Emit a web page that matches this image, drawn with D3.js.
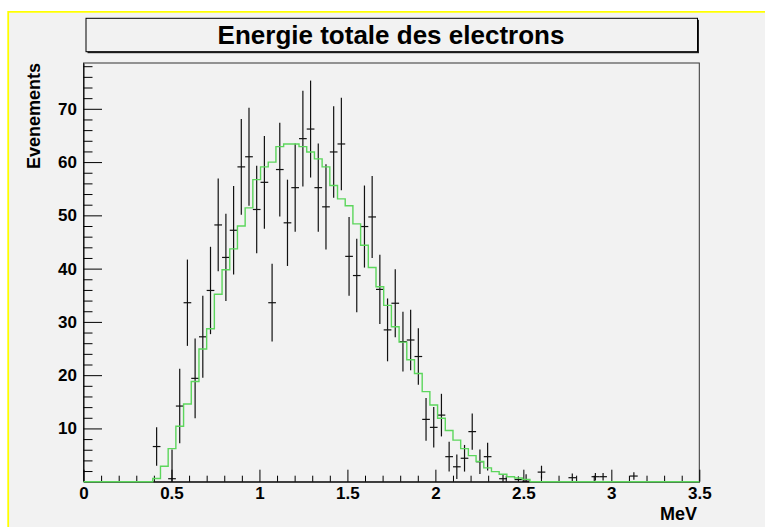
<!DOCTYPE html>
<html><head><meta charset="utf-8">
<script src="https://cdn.jsdelivr.net/npm/d3@7"></script>
<style>html,body{margin:0;padding:0;background:#fff;}svg{display:block;}</style>
</head><body>
<script>
// ---- data ----
const titleText = "Energie totale des electrons";
const xTitle = "MeV";
const yTitle = "Evenements";
const xMin = 0, xMax = 3.5, nBins = 80;
const yMax = 78.6;
const xMajorTicks = [0, 0.5, 1, 1.5, 2, 2.5, 3, 3.5];
const yMajorTicks = [10, 20, 30, 40, 50, 60, 70];
// simulated spectrum (green histogram), 80 bins
const mcCounts = [
  0,0,0,0,0,0,0,0,0,0.6,
  2.9,6.2,10.4,14.6,18.8,24.9,28.7,35.2,39.8,43.7,
  48.0,51.4,56.7,59.1,60.0,62.9,63.4,63.4,62.9,61.9,
  60.6,59.1,55.6,53.1,51.8,48.4,44.4,40.2,36.6,33.1,
  29.1,26.2,22.9,20.3,16.9,14.4,11.9,9.6,7.8,6.2,
  4.9,3.8,2.6,1.9,1.4,0.94,0.7,0.43,0,0,
  0,0,0,0,0,0,0,0,0,0,
  0,0,0,0,0,0,0,0,0,0
];
// measured data (black points), 80 bins
const dataCounts = [
  0,0,0,0,0,0,0,0,0,6.6,
  0,0.56,14.2,33.6,19.4,27.2,35.9,48.2,42.1,47.2,
  59.1,61.0,51.1,56.2,33.6,58.6,48.6,55.2,64.4,66.2,
  55.2,51.6,61.9,63.4,42.3,38.7,47.9,49.7,36.1,28.5,
  33.5,26.3,26.6,23.5,11.7,10.2,12.5,4.7,2.8,4.4,
  9.4,3.75,4.7,0,0.56,0,0.4,0.1,0,1.8,
  0,0,0,0.75,0,0,0.94,0.94,0,0,
  0,1.06,0,0,0,0,0,0,0,0
];
const dataErrors = [
  0,0,0,0,0,0,0,0,0,3.6,
  0,5.5,7.0,8.1,7.5,7.7,8.2,8.7,8.2,8.3,
  9.0,9.2,8.2,8.7,7.3,8.8,8.1,8.3,9.0,9.1,
  8.3,8.0,8.6,8.7,7.4,6.9,7.7,7.7,6.5,5.9,
  6.4,5.6,5.7,5.3,4.0,3.8,4.0,2.8,2.3,2.5,
  3.4,2.3,2.6,0,0.9,0,0.6,1.3,0,1.2,
  0,0,0,0.8,0,0,0.7,0.7,0,0,
  0,0.7,0,0,0,0,0,0,0,0
];

// ---- layout ----
const W = 765, H = 527;
const bg = "#f2f2f2";
const FONT = "'Liberation Sans', Arial, Helvetica, sans-serif";
const frame = {l: 83.5, r: 699.3, t: 63, b: 481.7};

const svg = d3.select("body").append("svg").attr("width", W).attr("height", H);
svg.append("rect").attr("width", W).attr("height", H).attr("fill", "#fff");
svg.append("rect").attr("x", 9).attr("y", 12.6).attr("width", W - 9).attr("height", H - 12.6).attr("fill", bg);
// yellow selection edge
svg.append("line").attr("x1", 8).attr("x2", W).attr("y1", 11.8).attr("y2", 11.8).attr("stroke", "#ffff00").attr("stroke-width", 1.8);
svg.append("line").attr("x1", 8.2).attr("x2", 8.2).attr("y1", 11).attr("y2", H).attr("stroke", "#ffff00").attr("stroke-width", 1.8);

const x = d3.scaleLinear().domain([xMin, xMax]).range([frame.l, frame.r]);
const y = d3.scaleLinear().domain([0, yMax]).range([frame.b, frame.t]);
const bw = (xMax - xMin) / nBins;

// frame
svg.append("rect").attr("x", frame.l).attr("y", frame.t)
  .attr("width", frame.r - frame.l).attr("height", frame.b - frame.t)
  .attr("fill", bg).attr("stroke", "#333").attr("stroke-width", 1);

// ---- data points ----
const pts = svg.append("g").attr("stroke", "#111").attr("stroke-width", 1.2).attr("fill", "none");
dataCounts.forEach((v, i) => {
  const e = dataErrors[i];
  if (v <= 0 && e <= 0) return;
  const x0 = x(xMin + i * bw), x1 = x(xMin + (i + 1) * bw), xc = (x0 + x1) / 2;
  pts.append("line").attr("x1", x0).attr("x2", x1).attr("y1", y(v)).attr("y2", y(v));
  pts.append("line").attr("x1", xc).attr("x2", xc)
    .attr("y1", y(Math.max(0, v - e))).attr("y2", y(v + e));
});

// ---- axes ----
function styleAxis(g) {
  g.select(".domain").attr("stroke", "#000").attr("stroke-width", 1);
  g.selectAll(".tick line").attr("stroke", "#000").attr("stroke-width", 1);
  g.selectAll("text").attr("font-family", FONT).attr("font-weight", "bold")
    .attr("font-size", 17).attr("fill", "#000");
}
const xMinor = d3.range(1, 35).map(k => k / 10).filter(v => Math.abs(v * 2 - Math.round(v * 2)) > 1e-6);
svg.append("g").attr("transform", `translate(0,${frame.b})`)
  .call(d3.axisBottom(x).tickValues(xMinor).tickSize(-6).tickFormat(""))
  .call(g => { g.select(".domain").remove(); g.selectAll("line").attr("stroke", "#000"); });
svg.append("g").attr("transform", `translate(0,${frame.b})`)
  .call(d3.axisBottom(x).tickValues(xMajorTicks).tickSize(-12).tickPadding(5).tickSizeOuter(0)
    .tickFormat(d3.format("")))
  .call(styleAxis);

const yMinor = d3.range(2, yMax, 2).filter(v => v % 10 !== 0);
svg.append("g").attr("transform", `translate(${frame.l},0)`)
  .call(d3.axisLeft(y).tickValues(yMinor).tickSize(-9).tickFormat(""))
  .call(g => { g.select(".domain").remove(); g.selectAll("line").attr("stroke", "#000"); });
svg.append("g").attr("transform", `translate(${frame.l},0)`)
  .call(d3.axisLeft(y).tickValues(yMajorTicks).tickSize(-18.5).tickPadding(6.5).tickSizeOuter(0))
  .call(styleAxis);

// ---- green histogram ----
const stepPts = mcCounts.map((v, i) => [xMin + i * bw, v]);
stepPts.push([xMax, mcCounts[nBins - 1]]);
svg.append("path").datum(stepPts)
  .attr("d", d3.line().x(d => x(d[0])).y(d => y(d[1])).curve(d3.curveStepAfter))
  .attr("fill", "none").attr("stroke", "#5cd65c").attr("stroke-width", 1.4);

// ---- axis titles ----
svg.append("text").attr("x", 697).attr("y", 519.5).attr("text-anchor", "end")
  .attr("font-family", FONT).attr("font-weight", "bold").attr("font-size", 18).text(xTitle);
svg.append("text").attr("transform", `translate(40,63) rotate(-90)`).attr("text-anchor", "end")
  .attr("font-family", FONT).attr("font-weight", "bold").attr("font-size", 18).text(yTitle);

// ---- title box ----
svg.append("rect").attr("x", 87.5).attr("y", 19.8).attr("width", 611.5).attr("height", 33.4).attr("fill", "#222");
svg.append("rect").attr("x", 86).attr("y", 18.3).attr("width", 611.5).attr("height", 33.4)
  .attr("fill", bg).attr("stroke", "#000").attr("stroke-width", 1);
svg.append("text").attr("x", 391).attr("y", 44.3).attr("text-anchor", "middle")
  .attr("font-family", FONT).attr("font-weight", "bold").attr("font-size", 26).text(titleText);
</script>
</body></html>
